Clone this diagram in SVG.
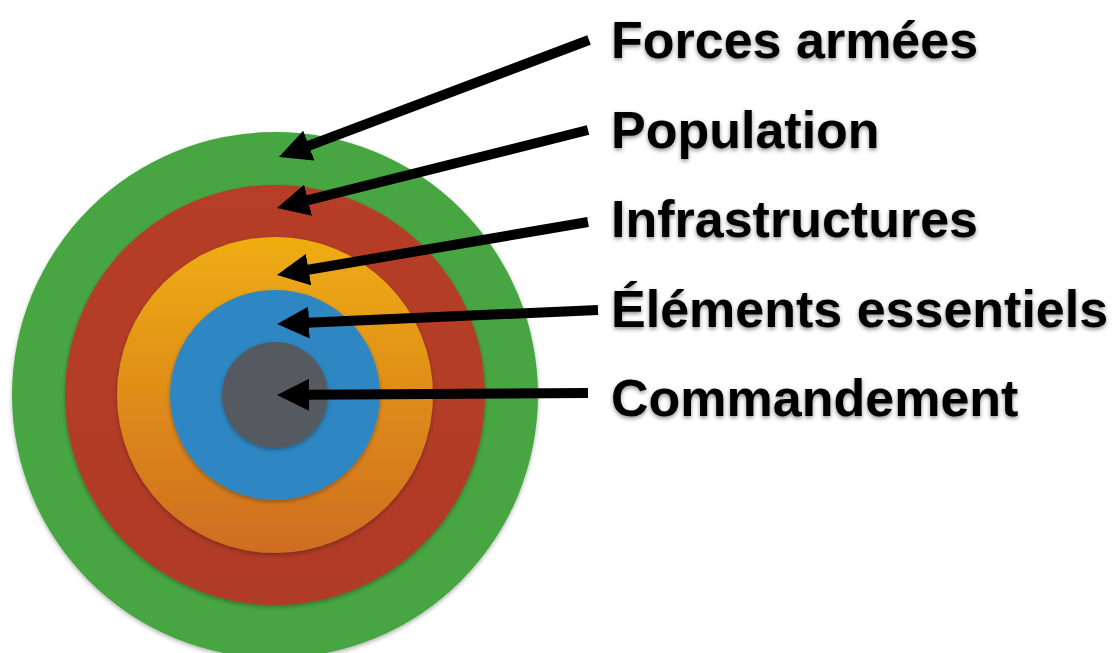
<svg xmlns="http://www.w3.org/2000/svg" width="1115" height="653" viewBox="0 0 1115 653">
<style>
.lbl{font-family:"Liberation Sans",Arial,Helvetica,sans-serif;font-weight:bold;font-size:52px;fill:#000;filter:url(#tshadow)}
.arr{stroke:#000;stroke-width:10;fill:none;marker-end:url(#head)}
.ring{filter:url(#cshadow)}
</style>
<defs>
<filter id="tshadow" x="-10%" y="-30%" width="120%" height="160%">
<feDropShadow dx="0" dy="2" stdDeviation="2" flood-color="#000" flood-opacity="0.45"/>
</filter>
<filter id="cshadow" x="-10%" y="-10%" width="120%" height="120%">
<feDropShadow dx="0" dy="2" stdDeviation="2" flood-color="#000" flood-opacity="0.3"/>
</filter>
<linearGradient id="gOrange" x1="0" y1="0" x2="0" y2="1">
<stop offset="0" stop-color="#efad11"/>
<stop offset="1" stop-color="#ce6d22"/>
</linearGradient>
<linearGradient id="gRed" x1="0" y1="0" x2="0" y2="1">
<stop offset="0" stop-color="#b63e28"/>
<stop offset="1" stop-color="#b03a27"/>
</linearGradient>
<marker id="head" markerUnits="userSpaceOnUse" markerWidth="34" markerHeight="32" refX="2" refY="16" orient="auto" viewBox="0 0 34 32">
<path d="M0,0 L32,16 L0,32 z" fill="#000"/>
</marker>
</defs>
<rect width="1115" height="653" fill="#fff"/>
<g id="ring-forces" class="ring"><circle cx="275" cy="395" r="263" fill="#47a643"/></g>
<g id="ring-population" class="ring"><circle cx="275" cy="395" r="210" fill="url(#gRed)"/></g>
<g id="ring-infrastructures" class="ring"><circle cx="275" cy="395" r="158" fill="url(#gOrange)"/></g>
<g id="ring-elements" class="ring"><circle cx="275" cy="395" r="105" fill="#2f87c2"/></g>
<g id="ring-commandement" class="ring"><circle cx="275" cy="395" r="53" fill="#545a61"/></g>
<g id="connectors">
<line class="arr" x1="589" y1="40" x2="307" y2="146.4"/>
<line class="arr" x1="588" y1="130" x2="306.1" y2="200.7"/>
<line class="arr" x1="588" y1="222" x2="306.6" y2="270"/>
<line class="arr" x1="598" y1="310" x2="307" y2="322.7"/>
<line class="arr" x1="588" y1="393" x2="307" y2="394.8"/>
</g>
<g id="label-forces"><text class="lbl" x="611" y="58">Forces armées</text></g>
<g id="label-population"><text class="lbl" x="611" y="148">Population</text></g>
<g id="label-infrastructures"><text class="lbl" x="611" y="237">Infrastructures</text></g>
<g id="label-elements"><text class="lbl" x="611" y="327">Éléments essentiels</text></g>
<g id="label-commandement"><text class="lbl" x="611" y="416">Commandement</text></g>
</svg>
